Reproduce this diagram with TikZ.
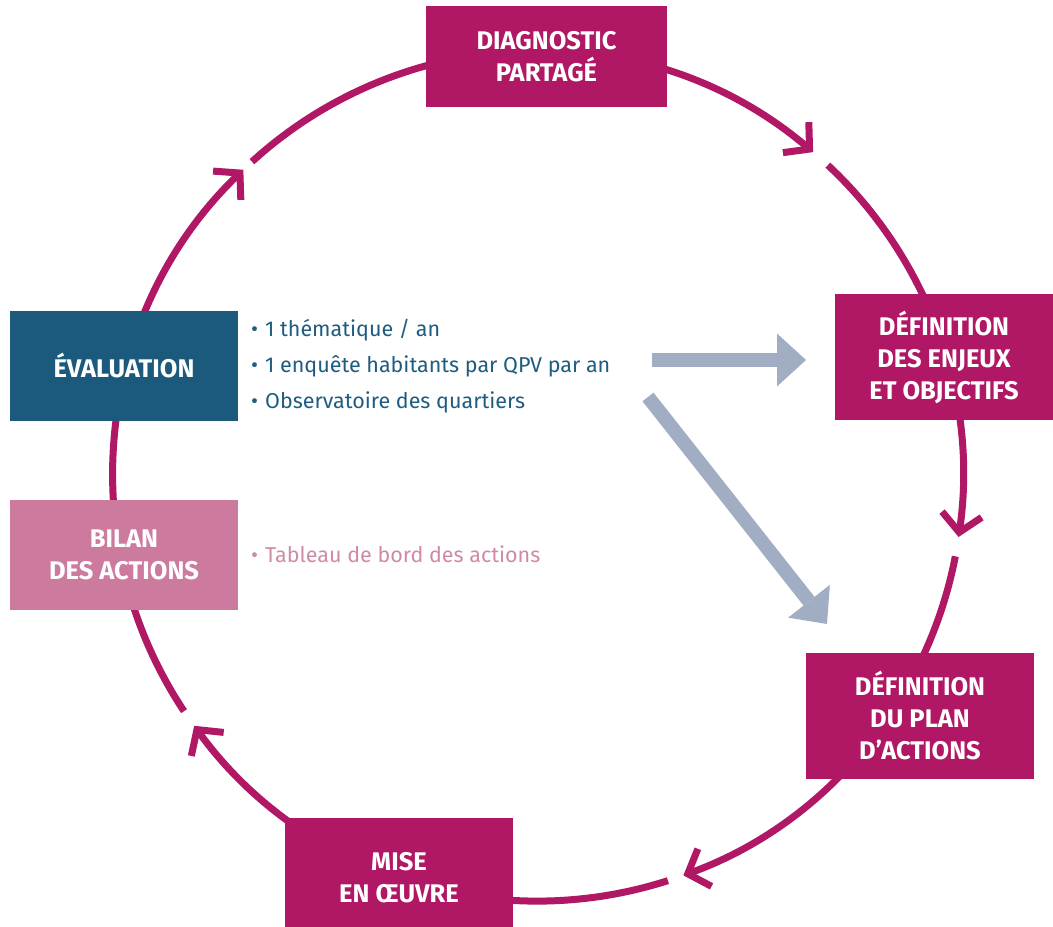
\documentclass[tikz,border=0pt]{standalone}
\usepackage{fontspec}
\setmainfont{Fira Sans}
\usetikzlibrary{arrows.meta,calc}
\definecolor{mag}{HTML}{B01765}
\definecolor{evalblue}{HTML}{1B5A7C}
\definecolor{bilanpink}{HTML}{CC7B9F}
\definecolor{grayarr}{HTML}{A0ADC2}
\definecolor{bultext}{HTML}{1F5D80}
\definecolor{tabtext}{HTML}{D08AA9}
\begin{document}
\begin{tikzpicture}[x=1pt,y=1pt,
  cyc/.style={draw=mag,line width=7pt,-{Straight Barb[length=18pt,width=40pt,line width=7pt]}},
  bigarrow/.style={draw=grayarr,line width=14pt,-{Triangle[length=29pt,width=53pt,line width=0pt]}},
  boxbase/.style={rectangle,inner sep=0pt,text=white,align=center,
    font=\bfseries\fontsize{25.5}{32}\selectfont},
  magbox/.style={boxbase,fill=mag},
  bultxt/.style={anchor=west,align=left,inner sep=0pt,font=\fontsize{21.5}{36}\selectfont},
]
\useasboundingbox (0,0) rectangle (1053,927);
\fill[white] (0,0) rectangle (1053,927);
\coordinate (c) at (538,451);
\def\R{425}
% cycle arcs
\draw[cyc] ($(c)+(132.3:\R)$) arc[start angle=132.3,end angle=49.65,radius=\R];
\draw[cyc] ($(c)+(47:\R)$) arc[start angle=47,end angle=-8.25,radius=\R];
\draw[cyc] ($(c)+(-10.9:\R)$) arc[start angle=-10.9,end angle=-70,radius=\R];
\draw[cyc] ($(c)+(-72.2:\R)$) arc[start angle=-72.2,end angle=-144,radius=\R];
\draw[cyc] ($(c)+(-146.4:\R)$) arc[start angle=-146.4,end angle=-226.1,radius=\R];
% boxes
\node[magbox,minimum width=241pt,minimum height=101pt] (diag) at (546.5,870.5) {DIAGNOSTIC\\PARTAGÉ};
\node[magbox,minimum width=218pt,minimum height=126pt] (enjeux) at (944,570) {DÉFINITION\\DES ENJEUX\\ET OBJECTIFS};
\node[magbox,minimum width=228pt,minimum height=126pt] (plan) at (920,211) {DÉFINITION\\DU PLAN\\D’ACTIONS};
\node[magbox,minimum width=228pt,minimum height=119pt] (mise) at (399,49.5) {MISE\\EN ŒUVRE};
\node[boxbase,fill=evalblue,minimum width=228pt,minimum height=110pt] (eval) at (124,561) {ÉVALUATION};
\node[boxbase,fill=bilanpink,minimum width=228pt,minimum height=110pt] (bilan) at (124,372) {BILAN\\DES ACTIONS};
% texts
\node[bultxt,text=bultext] (bul) at (251,561)
  {•\hspace{7pt}1 thématique / an\\•\hspace{7pt}1 enquête habitants par QPV par an\\•\hspace{7pt}Observatoire des quartiers};
\node[bultxt,text=tabtext] (tab) at (251,373)
  {•\hspace{7pt}Tableau de bord des actions};
% gray arrows
\coordinate (h1) at (652,567);
\coordinate (h2) at (806,567);
\coordinate (d1) at (648,530);
\coordinate (d2) at (827,303);
\draw[bigarrow] (h1) -- (h2);
\draw[bigarrow] (d1) -- (d2);
\end{tikzpicture}
\end{document}
